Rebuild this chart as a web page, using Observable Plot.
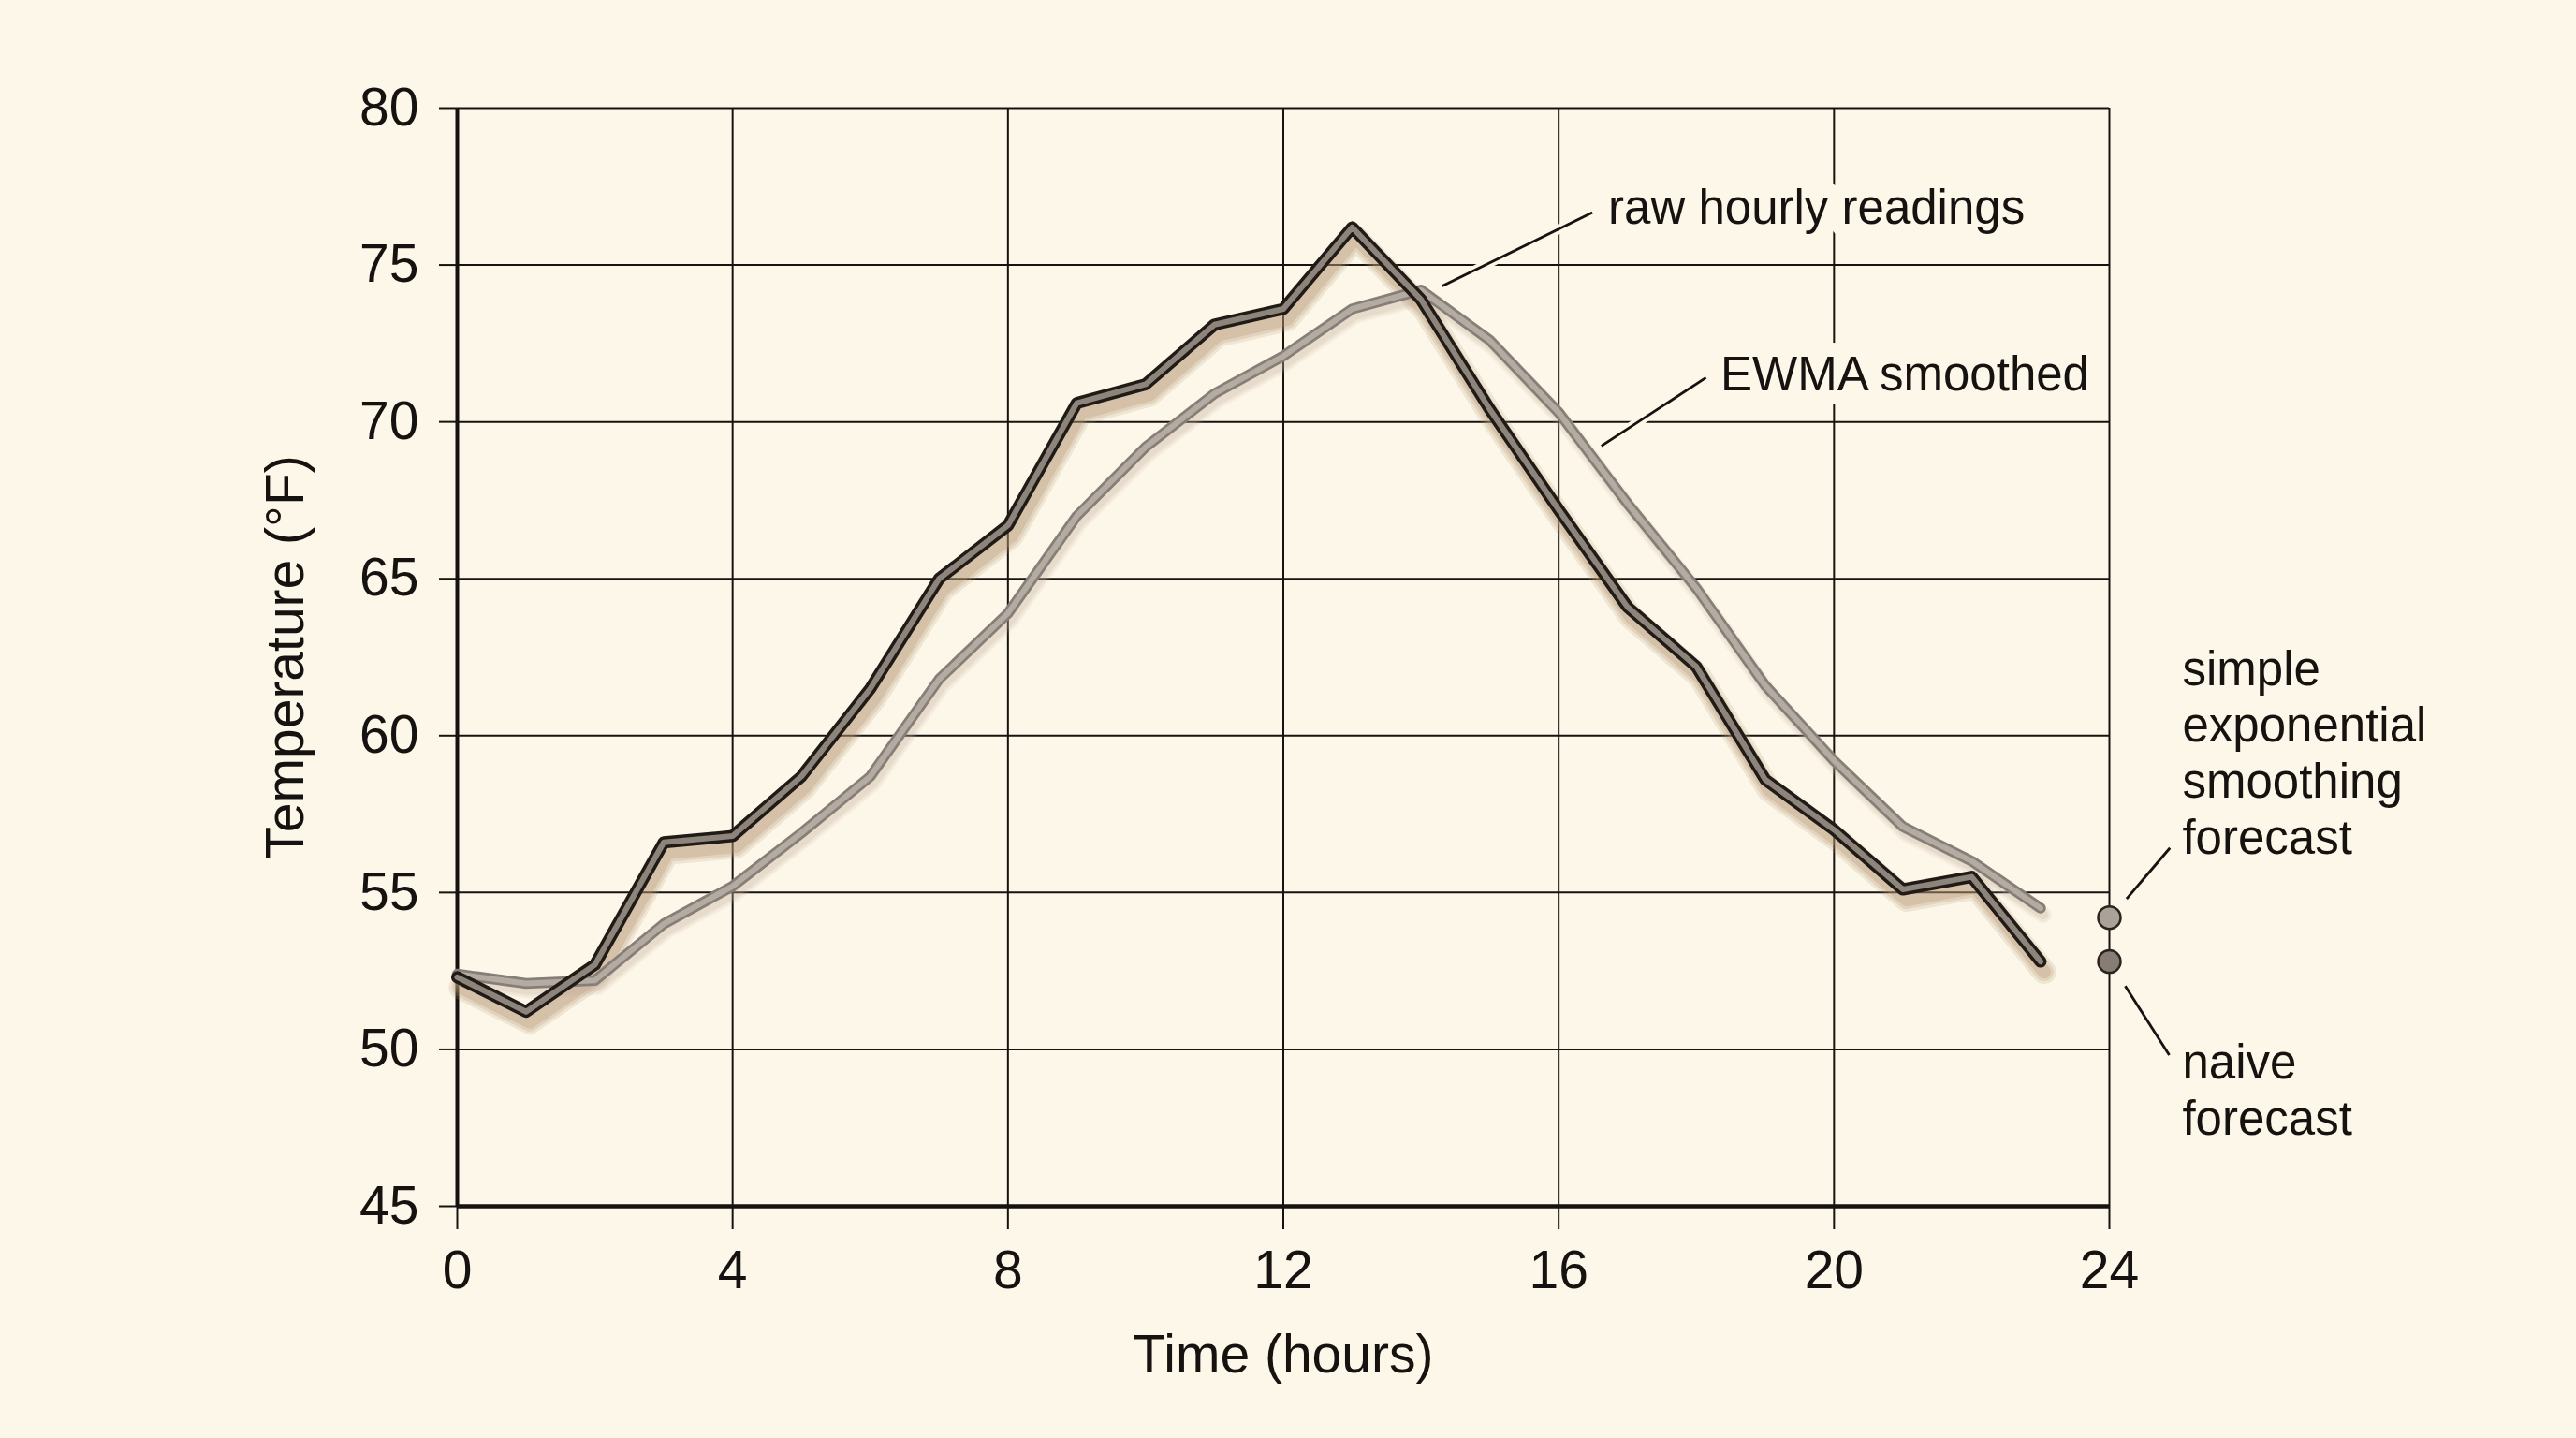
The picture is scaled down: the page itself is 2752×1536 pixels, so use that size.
<!DOCTYPE html>
<html>
<head>
<meta charset="utf-8">
<script src="https://cdn.jsdelivr.net/npm/d3@7"></script>
<script src="https://cdn.jsdelivr.net/npm/@observablehq/plot@0.6"></script>
<style>
  html, body { margin: 0; padding: 0; background: #fdf7e9; overflow: hidden; }
  #chart svg { display: block; }
</style>
</head>
<body>
<div id="chart"></div>
<script>
// Hourly temperature readings over one day, with an EWMA-smoothed series
const hours = [0, 1, 2, 3, 4, 5, 6, 7, 8, 9, 10, 11, 12, 13, 14, 15, 16, 17, 18, 19, 20, 21, 22, 23];
const rawTemps = [52.3, 51.2, 52.7, 56.6, 56.8, 58.7, 61.5, 65.0, 66.7, 70.6, 71.2, 73.1,
                  73.6, 76.2, 73.9, 70.4, 67.2, 64.1, 62.2, 58.6, 57.0, 55.1, 55.5, 52.8];
const ewmaTemps = [52.4, 52.1, 52.2, 54.0, 55.2, 56.9, 58.7, 61.8, 63.9, 67.0, 69.2, 70.9,
                   72.1, 73.6, 74.2, 72.6, 70.3, 67.4, 64.7, 61.6, 59.2, 57.1, 56.0, 54.5];

// One-step-ahead forecasts for hour 24
const forecastHour = [24, 24];
const forecastNames = ["simple exponential smoothing forecast", "naive forecast"];
const forecastValues = [54.2, 52.8];

// Axis ticks and titles
const xTicks = [0, 4, 8, 12, 16, 20, 24];
const yTicks = [45, 50, 55, 60, 65, 70, 75, 80];
const xTitle = "Time (hours)";
const yTitle = "Temperature (°F)";

// Annotation texts
const rawLabel = "raw hourly readings";
const ewmaLabel = "EWMA smoothed";
const sesLabel = "simple\nexponential\nsmoothing\nforecast";
const naiveLabel = "naive\nforecast";

const raw = hours.map((h, i) => ({hour: h, temp: rawTemps[i]}));
const ewma = hours.map((h, i) => ({hour: h, temp: ewmaTemps[i]}));
const forecasts = forecastNames.map((name, i) => ({name, hour: forecastHour[i], temp: forecastValues[i]}));

const paper = "#fdf7e9";
const ink = "#161210";
const font = "Liberation Sans, Arial, Helvetica, sans-serif";

// Callout placement in data units
const notes = [
  {text: rawLabel, x: 16.72, y: 76.8},
  {text: ewmaLabel, x: 18.35, y: 71.5}
];
const sideNotes = [
  {text: sesLabel, x: 25.06, y: 59.5},
  {text: naiveLabel, x: 25.06, y: 48.76}
];
const leaders = [
  {x1: 16.49, y1: 76.67, x2: 14.31, y2: 74.33},
  {x1: 18.14, y1: 71.41, x2: 16.62, y2: 69.23},
  {x1: 24.88, y1: 56.42, x2: 24.25, y2: 54.80},
  {x1: 24.23, y1: 52.02, x2: 24.87, y2: 49.82}
];
// y-axis title sits left of the tick labels, centred on the frame
const yTitlePos = [{text: yTitle, x: -2.48, y: 62.5}];

// soft drop shadow: a few stacked translucent strokes of decreasing width
const shadowLayers = [
  {w: 26, o: 0.18},
  {w: 20, o: 0.22},
  {w: 14, o: 0.28}
];

const chart = Plot.plot({
  width: 2752,
  height: 1536,
  marginLeft: 488,
  marginRight: 499,
  marginTop: 115,
  marginBottom: 248,
  style: {background: paper, fontFamily: font, color: ink},
  x: {domain: [0, 24]},
  y: {domain: [45, 80]},
  marks: [
    // grid
    Plot.gridX({ticks: xTicks, stroke: ink, strokeOpacity: 1, strokeWidth: 2}),
    Plot.gridY({ticks: yTicks, stroke: ink, strokeOpacity: 1, strokeWidth: 2}),
    // axes
    Plot.axisY({ticks: yTicks, tickSize: 19, tickPadding: 22, fontSize: 57, label: null, stroke: ink, strokeWidth: 2}),
    Plot.axisX({ticks: xTicks, tickSize: 25, tickPadding: 22, fontSize: 57, label: null, stroke: ink, strokeWidth: 2}),
    Plot.ruleX([0], {stroke: ink, strokeWidth: 4}),
    Plot.ruleY([45], {stroke: ink, strokeWidth: 4.5}),
    // axis titles
    Plot.text(yTitlePos, {x: "x", y: "y", text: "text", rotate: -90, fontSize: 57, fill: ink}),
    Plot.text([xTitle], {frameAnchor: "bottom", dy: 177, fontSize: 57, fill: ink}),
    // shadows under the series
    ...shadowLayers.map(s => Plot.line(raw, {x: "hour", y: "temp", stroke: "#b39470", strokeOpacity: s.o, strokeWidth: s.w, dx: 4, dy: 11})),
    ...shadowLayers.map(s => Plot.line(ewma, {x: "hour", y: "temp", stroke: "#c2b098", strokeOpacity: s.o * 0.6, strokeWidth: s.w * 0.7, dx: 3, dy: 7})),
    // EWMA smoothed series (cased stroke)
    Plot.line(ewma, {x: "hour", y: "temp", stroke: "#877f77", strokeWidth: 11.5}),
    Plot.line(ewma, {x: "hour", y: "temp", stroke: "#b4aca3", strokeWidth: 6}),
    // raw hourly readings (cased stroke)
    Plot.line(raw, {x: "hour", y: "temp", stroke: "#211b17", strokeWidth: 13}),
    Plot.line(raw, {x: "hour", y: "temp", stroke: "#8d847b", strokeWidth: 6}),
    // forecast points
    Plot.dot(forecasts, {x: "hour", y: "temp", r: 12, fill: (d, i) => i === 0 ? "#aaa198" : "#877d74", stroke: "#2a231e", strokeWidth: 2.5}),
    // callout leaders with a paper-coloured halo
    Plot.link(leaders, {x1: "x1", y1: "y1", x2: "x2", y2: "y2", stroke: paper, strokeWidth: 10, strokeLinecap: "butt"}),
    Plot.link(leaders, {x1: "x1", y1: "y1", x2: "x2", y2: "y2", stroke: ink, strokeWidth: 2.8}),
    // callout texts
    Plot.text(notes, {x: "x", y: "y", text: "text", textAnchor: "start", fontSize: 51, fill: ink, stroke: paper, strokeWidth: 30}),
    Plot.text(sideNotes, {x: "x", y: "y", text: "text", textAnchor: "start", fontSize: 51, lineHeight: 1.176, fill: ink})
  ]
});

document.getElementById("chart").appendChild(chart);
</script>
</body>
</html>
